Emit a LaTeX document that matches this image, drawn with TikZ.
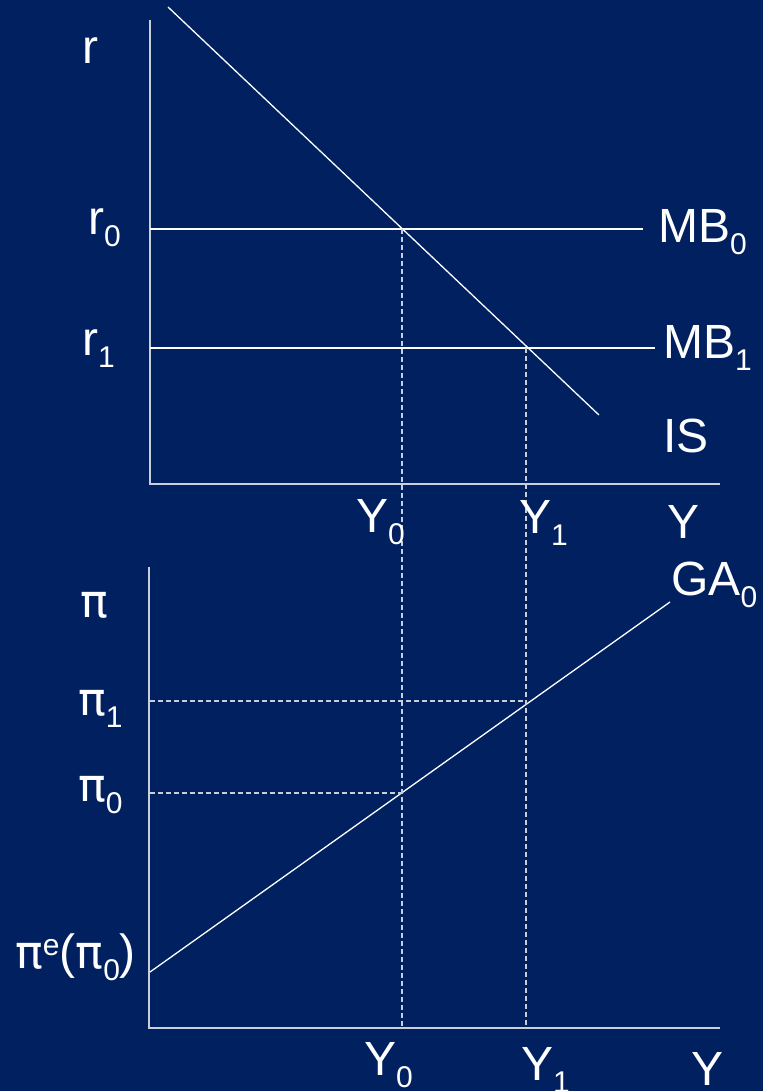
\documentclass[tikz,border=0pt]{standalone}
\usepackage{fontspec}
\setmainfont{Liberation Sans}
\newfontfamily\pifam{DejaVu Sans}
\definecolor{bgblue}{RGB}{0,32,96}
\definecolor{axisgray}{RGB}{200,206,218}
\newcommand{\lsub}[1]{\raisebox{-12pt}{\fontsize{30}{30}\selectfont #1}}
\newcommand{\lsup}[1]{\raisebox{13pt}{\fontsize{30}{30}\selectfont #1}}
\newcommand{\mypi}{{\pifam\fontsize{46}{56}\selectfont π}}
\tikzset{
  axisline/.style={draw=axisgray, line width=1.6pt},
  curve/.style={draw=white, line width=1.3pt},
  guide/.style={draw=axisgray, line width=1.3pt, dash pattern=on 5pt off 3pt},
  lbl/.style={text=white, inner sep=0pt, anchor=base west, font=\fontsize{48}{56}\selectfont}
}
\begin{document}
\begin{tikzpicture}[x=1pt,y=-1pt]
\fill[bgblue] (0,0) rectangle (763,1091);
\useasboundingbox (0,0) rectangle (763,1091);
% top panel
\coordinate (tTop) at (150,20);
\coordinate (tO) at (150,484);
\coordinate (tEnd) at (720,484);
\coordinate (isA) at (168,7);
\coordinate (isB) at (599,415);
\coordinate (mb0L) at (150,229);
\coordinate (mb0R) at (643,229);
\coordinate (mb1L) at (150,348);
\coordinate (mb1R) at (655,348);
\coordinate (e0) at (402,229);
\coordinate (e1) at (526,348);
% bottom panel
\coordinate (bTop) at (149,567);
\coordinate (bO) at (149,1028);
\coordinate (bEnd) at (720,1028);
\coordinate (gaA) at (150,972);
\coordinate (gaB) at (670,602);
\coordinate (p0) at (402,793);
\coordinate (p1) at (526,701);
\coordinate (p0L) at (150,793);
\coordinate (p1L) at (150,701);
\coordinate (y0b) at (402,1028);
\coordinate (y1b) at (526,1028);

\draw[axisline] (tTop) -- (tO) -- (tEnd);
\draw[axisline] (bTop) -- (bO) -- (bEnd);
\draw[curve] (isA) -- (isB);
\draw[curve] (mb0L) -- (mb0R);
\draw[curve] (mb1L) -- (mb1R);
\draw[curve] (gaA) -- (gaB);
\draw[guide] (e0) -- (y0b);
\draw[guide] (e1) -- (y1b);
\draw[guide] (p0L) -- (p0);
\draw[guide] (p1L) -- (p1);

% labels top
\node[lbl] (lr) at (82,64) {r};
\node[lbl] (lr0) at (88,235) {r\lsub{0}};
\node[lbl] (lr1) at (82,355) {r\lsub{1}};
\node[lbl] (lmb0) at (658,243) {MB\lsub{0}};
\node[lbl] (lmb1) at (663,358) {MB\lsub{1}};
\node[lbl] (lis) at (663,452) {IS};
\node[lbl] (ly0t) at (356,532) {Y\lsub{0}};
\node[lbl] (ly1t) at (519,533) {Y\lsub{1}};
\node[lbl] (lyt) at (667,538) {Y};
% labels bottom
\node[lbl] (lga) at (671,595) {GA\lsub{0}};
\node[lbl] (lpi) at (80,617) {\mypi};
\node[lbl] (lpi1) at (78,715) {\mypi\lsub{1}};
\node[lbl] (lpi0) at (78,801) {\mypi\lsub{0}};
\node[lbl] (lpie) at (15,968) {\mypi\lsup{e}(\mypi\lsub{0})};
\node[lbl] (ly0b) at (364,1075) {Y\lsub{0}};
\node[lbl] (ly1b) at (521,1080) {Y\lsub{1}};
\node[lbl] (lyb) at (691,1085) {Y};
\end{tikzpicture}
\end{document}
